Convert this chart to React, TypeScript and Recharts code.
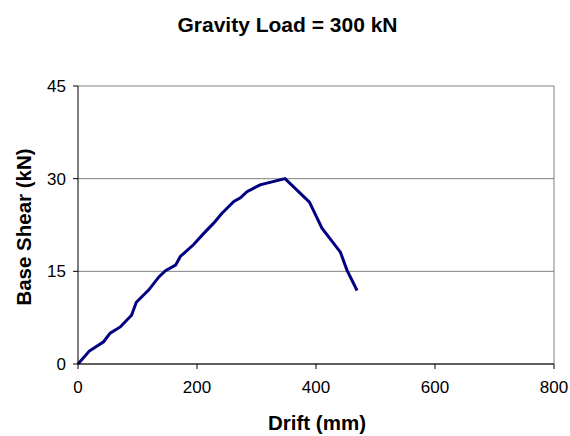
import { LineChart, Line, XAxis, YAxis, CartesianGrid, ReferenceLine } from "recharts";

const drift = [0, 19, 43, 54, 71, 90, 98, 119, 136, 147, 164, 172, 194, 211, 228, 242, 262, 273, 284, 306, 348, 389, 410, 441, 452, 469];
const shear = [0, 2.1, 3.6, 5.0, 6.0, 7.9, 10.0, 12.0, 14.1, 15.1, 16.0, 17.4, 19.3, 21.1, 22.8, 24.4, 26.3, 26.9, 27.9, 29.0, 30.0, 26.2, 22.0, 18.1, 15.2, 11.9];

const xTicks = [0, 200, 400, 600, 800];
const yTicks = [0, 15, 30, 45];

const data = drift.map((d, i) => ({ drift: d, shear: shear[i] }));

const font = "Arial, 'Liberation Sans', sans-serif";

export default function App() {
  return (
    <div style={{ position: "absolute", left: 0, top: 0, width: 570, height: 436, background: "#fff", fontFamily: font }}>
      <LineChart width={570} height={436} data={data} margin={{ top: 86, right: 16, bottom: 0, left: 0 }}>
        <CartesianGrid vertical={false} stroke="#808080" strokeWidth={1} />
        <ReferenceLine x={800} stroke="#808080" strokeWidth={1} />
        <XAxis
          dataKey="drift"
          type="number"
          domain={[0, 800]}
          ticks={xTicks}
          height={72}
          axisLine={{ stroke: "#000" }}
          tickLine={{ stroke: "#000" }}
          tickSize={5}
          tickMargin={12}
          tick={{ fill: "#000", fontSize: 17, fontFamily: font }}
          label={{
            content: () => (
              <text x={317} y={430} textAnchor="middle" fontSize={20.5} fontWeight="bold" fontFamily={font} fill="#000">
                Drift (mm)
              </text>
            ),
          }}
        />
        <YAxis
          type="number"
          domain={[0, 45]}
          ticks={yTicks}
          width={78}
          axisLine={{ stroke: "#000" }}
          tickLine={{ stroke: "#000" }}
          tickSize={5}
          tickMargin={7}
          tick={{ fill: "#000", fontSize: 17, fontFamily: font }}
          label={{
            content: () => (
              <text x={31} y={227} transform="rotate(-90 31 227)" textAnchor="middle" fontSize={20.5} fontWeight="bold" fontFamily={font} fill="#000">
                Base Shear (kN)
              </text>
            ),
          }}
        />
        <Line
          type="linear"
          dataKey="shear"
          stroke="#000080"
          strokeWidth={3}
          dot={false}
          isAnimationActive={false}
        />
      </LineChart>
      <div style={{ position: "absolute", left: 0, top: 13, width: 575, textAlign: "center", fontSize: 21, fontWeight: "bold", color: "#000" }}>
        Gravity Load = 300 kN
      </div>
    </div>
  );
}
